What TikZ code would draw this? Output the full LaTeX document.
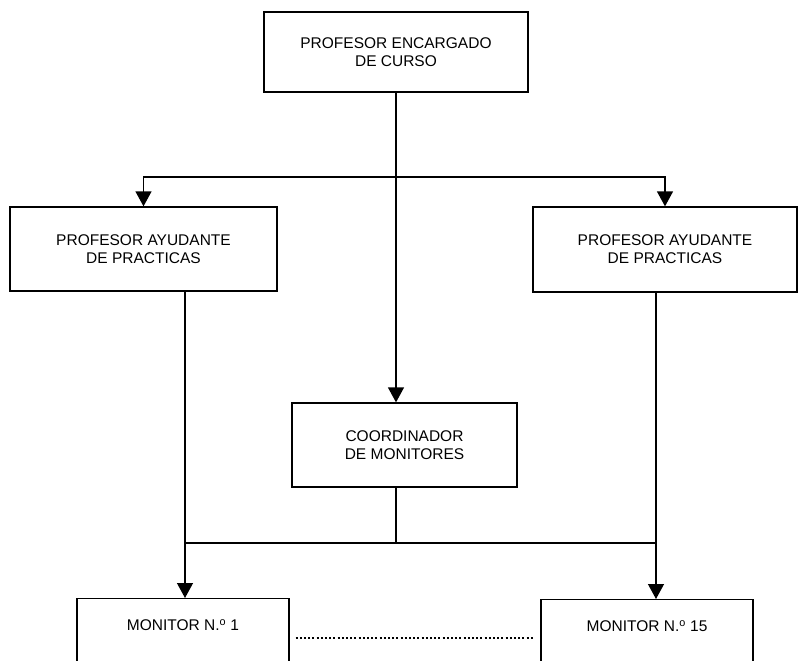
\documentclass[tikz,border=0pt]{standalone}
\usepackage{fontspec}
\setmainfont{Liberation Sans}
\usetikzlibrary{arrows.meta,positioning}

\begin{document}
\begin{tikzpicture}[
  x=1pt, y=-1pt,
  >={Triangle[length=15pt,width=16pt]},
  line width=1.3pt,
  every node/.style={font=\fontsize{15.5}{18}\selectfont, align=center},
  box/.style={draw, line width=1.3pt, inner sep=0pt},
  monbox/.style={box, minimum width=212pt, anchor=north, inner ysep=21pt, text depth=60pt}
]
  \useasboundingbox (0,0) rectangle (798,661);
  \clip (0,0) rectangle (798,661);

  \node[box, minimum width=264pt, minimum height=80pt] (prof) at (396,52) {PROFESOR ENCARGADO\\DE CURSO};
  \node[box, minimum width=267pt, minimum height=84pt] (lft) at (143.5,249) {PROFESOR AYUDANTE\\DE PRACTICAS};
  \node[box, minimum width=264pt, minimum height=85pt] (rgt) at (665,249.5) {PROFESOR AYUDANTE\\DE PRACTICAS};
  \node[box, minimum width=225pt, minimum height=84pt] (coord) at (404.5,445) {COORDINADOR\\DE MONITORES};
  \node[monbox] (mon1) at (183,598) {MONITOR N.\textsuperscript{o} 1};
  \node[monbox] (mon15) at (647,599) {MONITOR N.\textsuperscript{o} 15};

  \coordinate (jt) at (396,177);
  \coordinate (jl) at (185,543);
  \coordinate (jr) at (656,543);

  % from the professor in charge
  \draw[->] (prof.south) -- (prof.south |- coord.north);
  \draw[->] (jt) -| (lft.north);
  \draw[->] (jt) -| (rgt.north);

  % down to the monitors
  \draw (lft.south -| jl) -- (jl) -- (jr) -- (rgt.south -| jr);
  \draw (prof.south |- coord.south) -- (prof.south |- jl);
  \draw[->] (jl) -- (jl |- mon1.north);
  \draw[->] (jr) -- (jr |- mon15.north);

  \draw[line width=2pt, dash pattern=on 2pt off 2.2pt, shorten <=6pt, shorten >=6pt]
    (mon1.east |- 0,638) -- (mon15.west |- 0,638);
\end{tikzpicture}
\end{document}
